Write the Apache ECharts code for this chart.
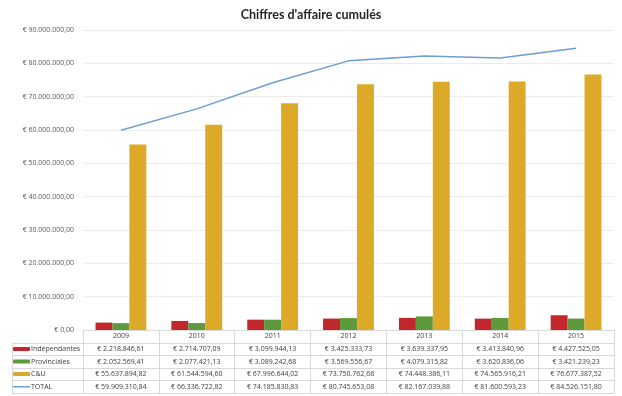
<!DOCTYPE html>
<html><head><meta charset="utf-8">
<script src="https://cdn.jsdelivr.net/npm/echarts@6/dist/echarts.min.js"></script>
<style>html,body{margin:0;padding:0;background:#fff}#c{width:622px;height:396px}</style>
</head><body><div id="c"></div>
<script>
const years = ['2009','2010','2011','2012','2013','2014','2015'];
const independantes = [2218846.61, 2714707.09, 3099944.13, 3425333.73, 3639337.95, 3413840.96, 4427525.05];
const provinciales = [2052569.41, 2077421.13, 3089242.68, 3569556.67, 4079315.82, 3620836.06, 3421239.23];
const cu = [55637894.82, 61544594.60, 67996644.02, 73750762.68, 74448386.11, 74565916.21, 76677387.52];
const total = [59909310.84, 66336722.82, 74185830.83, 80745653.08, 82167039.88, 81600593.23, 84526151.80];

function eur(v){
  let parts = v.toFixed(2).split('.');
  let i = parts[0].replace(/\B(?=(\d{3})+(?!\d))/g,'.');
  return '€ ' + i + ',' + parts[1];
}

const FONT = 'Open Sans';
const gridL = 83, gridR = 614, gridT = 30, gridB = 330;
const rowH = 12.6;
const tableLeft = 12;
const rows = 5;

const lines = [];
for (let r = 1; r <= rows; r++) {
  const y = Math.round(gridB + r * rowH) + 0.5;
  lines.push({type:'line', shape:{x1:tableLeft, y1:y, x2:gridR, y2:y}, style:{stroke:'#d9d9d9', lineWidth:1}, silent:true});
}
lines.push({type:'line', shape:{x1:tableLeft+0.5, y1:Math.round(gridB+rowH)+0.5, x2:tableLeft+0.5, y2:Math.round(gridB+rows*rowH)+0.5}, style:{stroke:'#d9d9d9', lineWidth:1}, silent:true});

const lineIcon = 'path://M0,0L0.01,0L0.01,0.01Z M0,1.3L17,1.3L17,2.7L0,2.7Z M16.99,4L17,4L17,3.99Z';

const chart = echarts.init(document.getElementById('c'));
chart.setOption({
  animation:false,
  backgroundColor:'#fff',
  title:{text:"Chiffres d'affaire cumulés", left:'center', top:3,
    textStyle:{fontFamily:'Lato', fontWeight:'bold', fontSize:12.5, color:'#262626'}},
  grid:{left:gridL, right:622-gridR, top:gridT, bottom:396-gridB, containLabel:false},
  legend:{orient:'vertical', left:tableLeft+1, top:gridB+rowH, itemWidth:17, itemHeight:4, itemGap:0, padding:0,
    textStyle:{fontFamily:FONT, fontSize:7, color:'#404040', lineHeight:rowH, padding:[0,0,0,-4]},
    data:['Indépendantes','Provinciales','C&U',{name:'TOTAL', icon:lineIcon, itemStyle:{color:'#6d9dd1', borderWidth:0}}]},
  xAxis:{type:'category', data:years,
    axisLine:{show:true, lineStyle:{color:'#d9d9d9'}},
    axisTick:{show:true, alignWithLabel:false, interval:0, length:Math.round(rows*rowH), lineStyle:{color:'#d9d9d9'}},
    axisLabel:{margin:0, interval:0, fontFamily:FONT, fontSize:7, color:'#404040', lineHeight:rowH,
      formatter:function(v, idx){ return [v, eur(independantes[idx]), eur(provinciales[idx]), eur(cu[idx]), eur(total[idx])].join('\n'); }}},
  yAxis:{type:'value', min:0, max:90000000, interval:10000000,
    axisLine:{show:false}, axisTick:{show:false},
    splitLine:{lineStyle:{color:'#ececec'}},
    axisLabel:{fontFamily:FONT, fontSize:7, color:'#595959', margin:9, formatter:function(v){return eur(v);}}},
  series:[
    {name:'Indépendantes', type:'bar', data:independantes, barGap:'0%', barCategoryGap:'33%', itemStyle:{color:'#c1272d'}},
    {name:'Provinciales', type:'bar', data:provinciales, itemStyle:{color:'#5e9a3b'}},
    {name:'C&U', type:'bar', data:cu, itemStyle:{color:'#dcaa28'}},
    {name:'TOTAL', type:'line', data:total, symbol:'none', lineStyle:{color:'#6d9dd1', width:1.5}, itemStyle:{color:'#6d9dd1'}}
  ],
  graphic:lines
});
</script></body></html>
